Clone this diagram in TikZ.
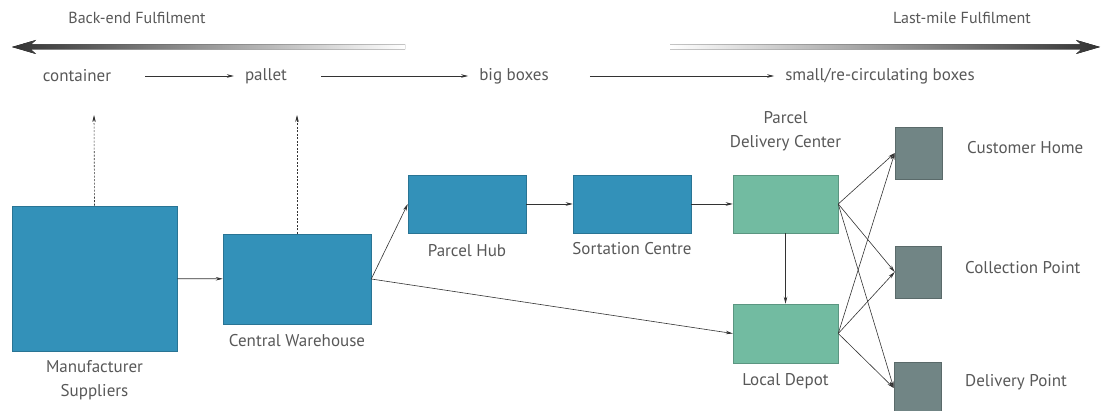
\documentclass[tikz,border=0pt]{standalone}
\usepackage{fontspec}
\setmainfont{PT Sans}
\usetikzlibrary{positioning,arrows.meta}
\definecolor{hubblue}{HTML}{3391B9}
\definecolor{depotgreen}{HTML}{72BBA1}
\definecolor{homegrey}{HTML}{718585}
\definecolor{txtgrey}{HTML}{585858}
\definecolor{flowline}{HTML}{333333}
\definecolor{fademid}{HTML}{7C9797}
\begin{document}
\begin{tikzpicture}[x=1pt,y=-1pt,
        font=\fontsize{17}{24}\selectfont,
        stage/.style={draw=#1!80!black, fill=#1, line width=0.5pt, inner sep=0pt},
        caption/.style={text=txtgrey, align=center, inner sep=1pt},
        heading/.style={caption, font=\fontsize{16}{24}\selectfont},
        flow/.style={draw=flowline, line width=0.6pt, -{Stealth[length=7pt,width=3.5pt]}},
        unit/.style={flow, shorten <=33pt, shorten >=10pt}]
    \useasboundingbox (0,0) rectangle (1106,411);

    % fulfilment direction
    \fill[left color=flowline, middle color=fademid, right color=white]
        (12,47) -- (36,40) -- (31,44.5) -- (405,44.5) -- (405,49.5) -- (31,49.5) -- (36,54) -- cycle;
    \fill[left color=white, middle color=fademid, right color=flowline]
        (1100,47) -- (1076,40) -- (1081,44.5) -- (670,44.5) -- (670,49.5) -- (1081,49.5) -- (1076,54) -- cycle;
    \node[heading] (backend) at (137,18) {Back-end Fulfilment};
    \node[heading] (lastmile) at (962,18) {Last-mile Fulfilment};

    % handling units
    \node[caption] (container) at (77,76) {container};
    \node[caption] (pallet) at (266,76) {pallet};
    \node[caption] (bigboxes) at (514,76) {big boxes};
    \node[caption] (smallboxes) at (880,76) {small/re-circulating boxes};
    \draw[unit] (container.east) -- (pallet.west);
    \draw[unit] (pallet.east) -- (bigboxes.west);
    \draw[unit, shorten <=40pt] (bigboxes.east) -- (smallboxes.west);

    % network
    \node[stage=hubblue, minimum width=165pt, minimum height=145pt] (ms) at (94.5,278.5) {};
    \node[stage=hubblue, minimum width=148pt, minimum height=90pt] (cw) at (297,279) {};
    \node[stage=hubblue, minimum width=118pt, minimum height=58pt] (ph) at (467,204) {};
    \node[stage=hubblue, minimum width=118pt, minimum height=58pt] (sc) at (632,204) {};
    \node[stage=depotgreen, minimum width=105pt, minimum height=58pt] (pdc) at (785.5,204) {};
    \node[stage=depotgreen, minimum width=105pt, minimum height=59pt] (ld) at (785.5,333.5) {};
    \node[stage=homegrey, minimum width=47pt, minimum height=52pt] (ch) at (918.5,153) {};
    \node[stage=homegrey, minimum width=46pt, minimum height=52pt] (cp) at (918,272) {};
    \node[stage=homegrey, minimum width=47pt, minimum height=52pt] (dp) at (917.5,388) {};

    \node[caption, below=8pt of ms] (mslabel) {Manufacturer\\Suppliers};
    \node[caption, below=9pt of cw] (cwlabel) {Central Warehouse};
    \node[caption, below=10pt of ph] (phlabel) {Parcel Hub};
    \node[caption, below=8pt of sc] (sclabel) {Sortation Centre};
    \node[caption, above=23pt of pdc] (pdclabel) {Parcel\\Delivery Center};
    \node[caption, below=9pt of ld] (ldlabel) {Local Depot};
    \node[caption, anchor=west] (chlabel) at (966,148) {Customer Home};
    \node[caption, anchor=west] (cplabel) at (964,268) {Collection Point};
    \node[caption, anchor=west] (dplabel) at (964,382) {Delivery Point};

    \coordinate (msup) at (94,115);
    \coordinate (cwup) at (297,115);
    \draw[flow, dash pattern=on 2pt off 1.5pt] (ms.north) -- (msup);
    \draw[flow, dash pattern=on 2pt off 1.5pt] (cw.north) -- (cwup);

    \draw[flow] (ms) -- (cw);
    \draw[flow] (cw.east) -- (ph.west);
    \draw[flow] (cw.east) -- (ld.west);
    \draw[flow] (ph) -- (sc);
    \draw[flow] (sc) -- (pdc);
    \draw[flow] (pdc) -- (ld);
    \foreach \src in {pdc,ld}
        \foreach \dst in {ch,cp,dp}
            \draw[flow] (\src.east) -- (\dst.west);
\end{tikzpicture}
\end{document}
